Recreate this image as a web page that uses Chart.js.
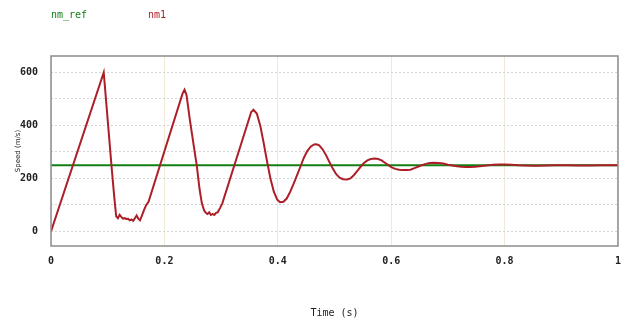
<!DOCTYPE html>
<html>
<head>
<meta charset="utf-8">
<script src="https://cdn.jsdelivr.net/npm/chart.js@4"></script>
<style>
    html, body { margin: 0; padding: 0; background: #fff; }
    #wrap { width: 630px; height: 324px; }
</style>
</head>
<body>
<div id="wrap"><canvas id="speedCanvas"></canvas></div>
<script>
// ------DATA--------
const seriesNames = ["nm_ref", "nm1"];
const seriesColors = ["#127f12", "#ad1f28"];

// reference speed (flat set point)
const refTime = [0, 1];
const refSpeed = [250, 250];

// measured speed nm1
const nm1Time = [
    0.000, 0.093, 0.100, 0.107, 0.112, 0.115,
    0.118, 0.121, 0.124, 0.127, 0.130, 0.133, 0.136, 0.139, 0.142, 0.145,
    0.148, 0.151, 0.154, 0.157, 0.160, 0.164, 0.168, 0.172,
    0.232, 0.2355, 0.239, 0.245, 0.252, 0.257, 0.262, 0.266,
    0.270, 0.273, 0.276, 0.279, 0.282, 0.285, 0.288, 0.291, 0.294, 0.298, 0.302,
    0.353, 0.357, 0.363, 0.369, 0.375, 0.381, 0.387, 0.393, 0.399, 0.404,
    0.410, 0.416, 0.422, 0.428, 0.434, 0.440, 0.446, 0.452, 0.458, 0.464, 0.468,
    0.473, 0.479, 0.485, 0.491, 0.497, 0.503, 0.509, 0.515, 0.522,
    0.528, 0.534, 0.540, 0.546, 0.552, 0.558, 0.564, 0.571,
    0.577, 0.583, 0.589, 0.595, 0.601, 0.607, 0.614, 0.621, 0.628,
    0.634, 0.640, 0.647, 0.654, 0.661, 0.668, 0.676,
    0.684, 0.692, 0.700, 0.708, 0.716, 0.724, 0.732, 0.740,
    0.748, 0.756, 0.764, 0.772, 0.780, 0.790, 0.800,
    0.812, 0.824, 0.836, 0.848, 0.860, 0.875, 0.890, 0.910, 0.930, 0.950, 0.970, 0.990, 1.000
];
const nm1Speed = [
    0, 600, 420, 240, 120, 57,
    50, 63, 55, 48, 50, 47, 48, 42, 45, 40,
    50, 60, 48, 42, 58, 80, 100, 112,
    520, 535, 515, 420, 320, 250, 160, 107,
    80, 70, 66, 72, 62, 66, 62, 70, 72, 88, 105,
    450, 459, 445, 400, 335, 265, 200, 150, 120, 110,
    112, 125, 150, 180, 212, 245, 278, 303, 320, 328, 329,
    325, 310, 288, 262, 237, 216, 203, 197, 196,
    200, 212, 228, 244, 258, 268, 273, 275,
    273, 268, 259, 250, 242, 236, 233, 232, 232,
    233, 238, 244, 250, 255, 258, 259,
    258, 256, 252, 249, 246, 244, 243, 243,
    244, 246, 248, 250, 252, 253, 253,
    252, 250, 249, 248, 248, 249, 250, 250, 249, 249, 250, 250, 250
];

// axis ticks
const timeTicks = [0, 0.2, 0.4, 0.6, 0.8, 1];
const speedTickLabels = [0, 200, 400, 600];

const toPoints = (xs, ys) => xs.map((x, i) => ({ x: x, y: ys[i] }));

// ------PLUGINS--------
// grey frame round the plot area
const plotFrame = {
    id: "plotFrame",
    afterDatasetsDraw(chart) {
        const a = chart.chartArea;
        const ctx = chart.ctx;
        ctx.save();
        ctx.strokeStyle = "#8c8c8c";
        ctx.lineWidth = 1.5;
        ctx.strokeRect(a.left, a.top, a.right - a.left, a.bottom - a.top);
        ctx.restore();
    }
};

// coloured series names above the plot
const nameRow = {
    id: "nameRow",
    afterDraw(chart) {
        const ctx = chart.ctx;
        const xs = [51, 148];
        ctx.save();
        ctx.font = "10px 'DejaVu Sans Mono'";
        ctx.textBaseline = "middle";
        chart.data.datasets.forEach((ds, i) => {
            ctx.fillStyle = ds.borderColor;
            ctx.fillText(ds.label, xs[i], 15);
        });
        ctx.restore();
    }
};

// ------CHART--------
const monoTick = { family: "'DejaVu Sans Mono'", size: 10, weight: "bold" };

const speedChart = new Chart(document.getElementById("speedCanvas"), {
    type: "line",
    data: {
        datasets: [
            {
                label: seriesNames[0],
                data: toPoints(refTime, refSpeed),
                borderColor: seriesColors[0],
                borderWidth: 2,
                pointRadius: 0,
                tension: 0,
                order: 2
            },
            {
                label: seriesNames[1],
                data: toPoints(nm1Time, nm1Speed),
                borderColor: seriesColors[1],
                borderWidth: 2,
                pointRadius: 0,
                tension: 0,
                order: 1
            }
        ]
    },
    options: {
        responsive: true,
        maintainAspectRatio: false,
        animation: false,
        layout: { padding: { top: 56, right: 7, left: 0, bottom: 0 } },
        plugins: {
            legend: { display: false },
            tooltip: { enabled: false }
        },
        scales: {
            x: {
                type: "linear",
                min: 0,
                max: 1,
                afterBuildTicks: (scale) => { scale.ticks = timeTicks.map(v => ({ value: v })); },
                afterFit: (scale) => { scale.height = 78; },
                border: { display: false },
                grid: { color: "#efe9d6", lineWidth: 1, drawTicks: false },
                ticks: {
                    padding: 9,
                    color: "#222",
                    font: monoTick,
                    maxRotation: 0,
                    callback: (v) => String(v)
                },
                title: {
                    display: true,
                    text: "Time (s)",
                    color: "#222",
                    font: { family: "'DejaVu Sans Mono'", size: 10 },
                    padding: { top: 4, bottom: 5 }
                }
            },
            y: {
                min: -55,
                max: 662,
                afterFit: (scale) => { scale.width = 51; },
                // dotted horizontal grid
                border: { display: false, dash: [2, 2] },
                grid: { color: "#d4d4d4", lineWidth: 1, drawTicks: false },
                ticks: {
                    stepSize: 100,
                    includeBounds: false,
                    padding: 13,
                    color: "#222",
                    font: monoTick,
                    callback: (v) => speedTickLabels.includes(v) ? String(v) : ""
                },
                title: {
                    display: true,
                    text: "Speed (m/s)",
                    color: "#222",
                    font: { family: "'DejaVu Sans'", size: 7 },
                    padding: { top: 14, bottom: 0 }
                }
            }
        }
    },
    plugins: [plotFrame, nameRow]
});
</script>
</body>
</html>
